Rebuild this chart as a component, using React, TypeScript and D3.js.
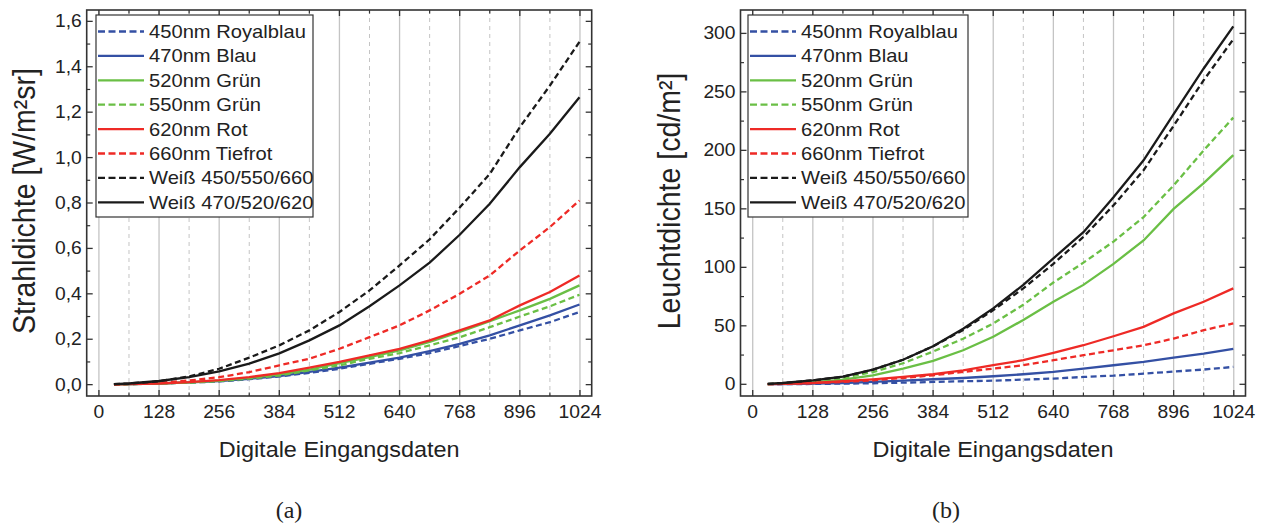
import React from "react";
import * as d3 from "d3";

const xVals = [32, 64, 128, 192, 256, 320, 384, 448, 512, 576, 640, 704, 768, 832, 896, 960, 1023];
const xTicks = [0, 128, 256, 384, 512, 640, 768, 896, 1024];
const xMinor = [64, 192, 320, 448, 576, 704, 832, 960];

const seriesNames = [
  "450nm Royalblau",
  "470nm Blau",
  "520nm Grün",
  "550nm Grün",
  "620nm Rot",
  "660nm Tiefrot",
  "Weiß 450/550/660",
  "Weiß 470/520/620",
];

// Strahldichte [W/m²sr]
const rad450 = [0.001, 0.002, 0.005, 0.009, 0.014, 0.024, 0.036, 0.052, 0.07, 0.092, 0.114, 0.139, 0.17, 0.202, 0.239, 0.275, 0.32];
const rad470 = [0.001, 0.002, 0.005, 0.01, 0.016, 0.026, 0.038, 0.056, 0.075, 0.097, 0.119, 0.148, 0.18, 0.217, 0.261, 0.305, 0.353];
const rad520 = [0.001, 0.002, 0.005, 0.01, 0.018, 0.03, 0.045, 0.066, 0.095, 0.121, 0.151, 0.188, 0.232, 0.28, 0.327, 0.378, 0.437];
const rad550 = [0.001, 0.002, 0.005, 0.009, 0.016, 0.027, 0.04, 0.063, 0.085, 0.114, 0.139, 0.173, 0.209, 0.253, 0.3, 0.345, 0.396];
const rad620 = [0.001, 0.002, 0.005, 0.011, 0.02, 0.033, 0.051, 0.075, 0.1, 0.129, 0.158, 0.195, 0.239, 0.283, 0.349, 0.408, 0.481];
const rad660 = [0.001, 0.003, 0.008, 0.018, 0.033, 0.055, 0.085, 0.114, 0.158, 0.209, 0.261, 0.327, 0.4, 0.481, 0.591, 0.694, 0.811];
const radW1 = [0.002, 0.005, 0.015, 0.036, 0.07, 0.119, 0.173, 0.239, 0.32, 0.415, 0.525, 0.64, 0.78, 0.928, 1.134, 1.317, 1.51];
const radW2 = [0.002, 0.005, 0.016, 0.033, 0.058, 0.093, 0.138, 0.195, 0.261, 0.345, 0.437, 0.537, 0.66, 0.797, 0.958, 1.105, 1.266];

// Leuchtdichte [cd/m²]
const lum450 = [0.1, 0.2, 0.3, 0.6, 0.9, 1.4, 2, 2.6, 3.1, 4, 4.9, 6.3, 7.4, 9.1, 10.9, 12.6, 14.9];
const lum470 = [0.1, 0.2, 0.6, 1.1, 2, 3.1, 4.3, 5.4, 6.9, 8.6, 10.6, 13.4, 16.3, 19.1, 22.9, 26.3, 30.3];
const lum520 = [0.2, 0.5, 1.7, 4, 7.7, 13.4, 20, 29.1, 40.6, 55, 70.6, 85, 103, 123, 150, 172, 196];
const lum550 = [0.2, 0.5, 2.5, 5.5, 10.5, 18, 28, 39, 52, 68, 87, 104, 122, 143, 170, 200, 228];
const lum620 = [0.1, 0.3, 1.1, 2.6, 4.3, 6.3, 8.6, 12, 16.3, 20.6, 26.9, 33.4, 41.1, 49.1, 60.6, 70.6, 82];
const lum660 = [0.1, 0.3, 1.1, 2, 3.4, 5.4, 7.7, 10.6, 13.4, 16.3, 20.6, 24.9, 29.1, 33.4, 39.1, 46.3, 52];
const lumW1 = [0.3, 1.1, 3.4, 6.5, 12.5, 21, 32.5, 46.5, 63.4, 82, 103, 126, 153, 183, 221, 260, 295];
const lumW2 = [0.3, 1.1, 3.4, 6.5, 12.5, 21, 32.5, 47.5, 64.9, 85, 107.7, 130, 160, 191.5, 231, 270, 306];

const radTicks = [0, 0.2, 0.4, 0.6, 0.8, 1.0, 1.2, 1.4, 1.6];
const lumTicks = [0, 50, 100, 150, 200, 250, 300];

const COLORS = ["#3450a4", "#3450a4", "#6abf45", "#6abf45", "#ee2a26", "#ee2a26", "#1a1a1a", "#1a1a1a"];
const DASHED = [true, false, false, true, false, true, true, false];

const FONT = "'Liberation Sans', Arial, Helvetica, sans-serif";

function T({ x, y, size, sx = 1.1, sy = 1, anchor = "start", rotate = 0, children, fill = "#222", family = FONT }: any) {
  return (
    <text
      transform={`translate(${x},${y}) rotate(${rotate}) scale(${sx},${sy})`}
      fontSize={size}
      fontFamily={family}
      textAnchor={anchor}
      fill={fill}
    >
      {children}
    </text>
  );
}

function Panel({ left, data, yDomain, yTicks, yMinorStep, fmt, yTitle, legendX, legendW, titleX }: any) {
  const top = 10;
  const bottom = 396;
  const width = 505;
  const x = d3.scaleLinear().domain([-26, 1049]).range([left, left + width]);
  const y = d3.scaleLinear().domain(yDomain).range([bottom, top]);
  const line = d3
    .line<[number, number]>()
    .x((d) => x(d[0]))
    .y((d) => y(d[1]));
  const yMinor = yTicks.slice(0, -1).map((t: number) => t + yMinorStep);
  if (yTicks[yTicks.length - 1] + yMinorStep < yDomain[1]) yMinor.push(yTicks[yTicks.length - 1] + yMinorStep);
  const right = left + width;
  const frame = "#333";
  return (
    <g>
      {xTicks.map((t) => (
        <line key={"g" + t} x1={x(t)} x2={x(t)} y1={top} y2={bottom} stroke="#c4c4c4" strokeWidth={1.3} />
      ))}
      {xMinor.map((t) => (
        <line key={"gm" + t} x1={x(t)} x2={x(t)} y1={top} y2={bottom} stroke="#c4c4c4" strokeWidth={1} strokeDasharray="4,4" />
      ))}
      {data.map((vals: number[], i: number) => (
        <path
          key={"s" + i}
          d={line(xVals.map((xv, j) => [xv, vals[j]]) as any) || ""}
          fill="none"
          stroke={COLORS[i]}
          strokeWidth={2.3}
          strokeDasharray={DASHED[i] ? "6,3.5" : undefined}
        />
      ))}
      <rect x={left} y={top} width={width} height={bottom - top} fill="none" stroke={frame} strokeWidth={1.6} />
      {xTicks.map((t) => (
        <g key={"xt" + t}>
          <line x1={x(t)} x2={x(t)} y1={bottom} y2={bottom - 6} stroke={frame} strokeWidth={1.3} />
          <line x1={x(t)} x2={x(t)} y1={top} y2={top + 6} stroke={frame} strokeWidth={1.3} />
          <T x={x(t)} y={418} size={17.5} anchor="middle">{t}</T>
        </g>
      ))}
      {xMinor.map((t) => (
        <g key={"xm" + t}>
          <line x1={x(t)} x2={x(t)} y1={bottom} y2={bottom - 3.5} stroke={frame} strokeWidth={1.2} />
          <line x1={x(t)} x2={x(t)} y1={top} y2={top + 3.5} stroke={frame} strokeWidth={1.2} />
        </g>
      ))}
      {yTicks.map((t: number) => (
        <g key={"yt" + t}>
          <line x1={left} x2={left + 6} y1={y(t)} y2={y(t)} stroke={frame} strokeWidth={1.3} />
          <line x1={right} x2={right - 6} y1={y(t)} y2={y(t)} stroke={frame} strokeWidth={1.3} />
          <T x={left - 5} y={y(t) + 6} size={17.5} anchor="end">{fmt(t)}</T>
        </g>
      ))}
      {yMinor.map((t: number) => (
        <g key={"ym" + t}>
          <line x1={left} x2={left + 3.5} y1={y(t)} y2={y(t)} stroke={frame} strokeWidth={1.2} />
          <line x1={right} x2={right - 3.5} y1={y(t)} y2={y(t)} stroke={frame} strokeWidth={1.2} />
        </g>
      ))}
      <T x={left + width / 2} y={457} size={21.5} sx={1.09} anchor="middle">Digitale Eingangsdaten</T>
      <T x={titleX} y={201} size={28.5} sx={1} sy={1.08} anchor="middle" rotate={-90}>{yTitle}</T>
      <rect x={legendX} y={15} width={legendW} height={202} fill="#fff" stroke={frame} strokeWidth={1.2} />
      {seriesNames.map((name, i) => {
        const cy = 31.5 + i * 24.4;
        return (
          <g key={"l" + i}>
            <line
              x1={legendX + 2}
              x2={legendX + 48}
              y1={cy}
              y2={cy}
              stroke={COLORS[i]}
              strokeWidth={2.3}
              strokeDasharray={DASHED[i] ? "7,3.5" : undefined}
            />
            <T x={legendX + 53} y={cy + 6.5} size={18} sx={1.12}>{name}</T>
          </g>
        );
      })}
    </g>
  );
}

export default function App() {
  const radData = [rad450, rad470, rad520, rad550, rad620, rad660, radW1, radW2];
  const lumData = [lum450, lum470, lum520, lum550, lum620, lum660, lumW1, lumW2];
  const fmtRad = (v: number) => d3.format(".1f")(v).replace(".", ",");
  const fmtLum = (v: number) => String(v);
  return (
    <div style={{ position: "absolute", left: 0, top: 0 }}>
      <svg width={1267} height={525} style={{ display: "block", background: "#fff" }}>
        <Panel
          left={86.7}
          data={radData}
          yDomain={[-0.05, 1.65]}
          yTicks={radTicks}
          yMinorStep={0.1}
          fmt={fmtRad}
          yTitle="Strahldichte [W/m²sr]"
          legendX={96}
          legendW={217}
          titleX={35}
        />
        <Panel
          left={740.5}
          data={lumData}
          yDomain={[-10, 320]}
          yTicks={lumTicks}
          yMinorStep={25}
          fmt={fmtLum}
          yTitle="Leuchtdichte [cd/m²]"
          legendX={748}
          legendW={220}
          titleX={680}
        />
        <T x={289} y={518} size={24} sx={1} anchor="middle" family="'Liberation Serif', 'DejaVu Serif', serif">(a)</T>
        <T x={946} y={518} size={24} sx={1} anchor="middle" family="'Liberation Serif', 'DejaVu Serif', serif">(b)</T>
      </svg>
    </div>
  );
}
